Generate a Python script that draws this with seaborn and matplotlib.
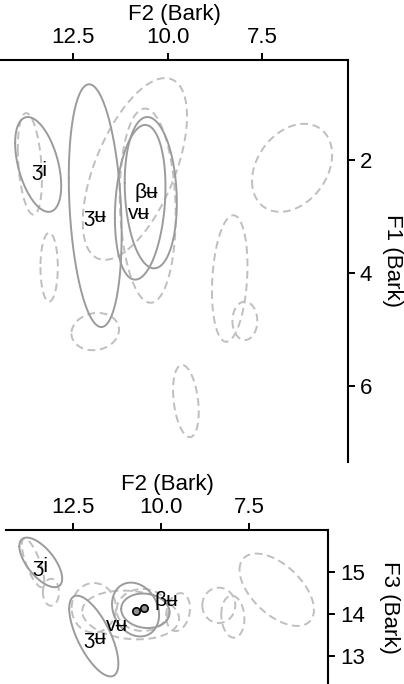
import numpy as np
import pandas as pd
import matplotlib
matplotlib.use("Agg")
import matplotlib.pyplot as plt
import seaborn as sns

# ---------------- data ----------------
# one entry per vowel category; the first four are the labelled (solid) ones
names = ["ʒi", "ʒʉ", "vʉ", "βʉ", "o1", "o2", "o3", "o4", "o5", "o6", "o7", "o8", "o9"]
labelled = [True, True, True, True, False, False, False, False, False, False, False, False, False]

f2_mean   = [13.43, 11.92, 10.73, 10.45, 13.65, 13.14, 11.92, 10.87, 10.53, 8.36, 7.96, 9.52, 6.71]
f2_spread = [0.61, 0.70, 0.67, 0.69, 0.32, 0.23, 0.63, 1.38, 0.74, 0.47, 0.33, 0.34, 1.06]

f1_mean   = [2.08, 2.81, 2.75, 2.58, 2.07, 3.90, 5.04, 2.16, 2.81, 4.10, 4.85, 6.27, 2.14]
f1_spread = [0.84, 2.15, 1.37, 1.34, 0.90, 0.61, 0.33, 1.61, 1.72, 1.12, 0.34, 0.64, 0.78]
r_f2_f1   = [-0.45, -0.23, 0.20, -0.13, -0.30, 0.0, 0.10, 0.58, -0.10, 0.20, 0.0, -0.30, 0.30]

f3_mean   = [15.23, 13.48, 14.11, 14.08, 15.22, 14.52, 14.15, 13.98, 14.10, 14.21, 13.94, 14.05, 14.58]
f3_spread = [0.59, 0.96, 0.64, 0.41, 0.58, 0.32, 0.59, 0.58, 0.50, 0.42, 0.50, 0.45, 0.86]
r_f2_f3   = [0.65, 0.68, 0.20, 0.10, 0.75, 0.0, 0.0, 0.15, 0.0, 0.0, 0.10, -0.20, 0.55]

# text labels
label_text   = ["ʒi", "ʒʉ", "βʉ", "vʉ"]
label_f2_top = [13.39, 11.94, 10.56, 10.77]
label_f1_top = [2.18, 3.01, 2.58, 2.94]
label_f2_bot = [13.45, 11.90, 9.86, 11.25]
label_f3_bot = [15.14, 13.41, 14.32, 13.72]

# means shown in lower panel
mean_f2 = [10.71, 10.48]
mean_f3 = [14.08, 14.15]

f2_ticks = [12.5, 10.0, 7.5]
f2_ticklabels = ["12.5", "10.0", "7.5"]
f1_ticks = [2, 4, 6]
f3_ticks = [13, 14, 15]

# ---------------- style ----------------
sns.set_theme(style="ticks")
plt.rcParams["font.family"] = ["Liberation Sans", "DejaVu Sans"]

SOLID = "#9b9b9b"
DASHED = "#bfbfbf"
FS = 16
LAB_FS = 15


def ellipse(cx, sx, cy, sy, r, n=240):
    t = np.linspace(0, 2 * np.pi, n)
    x = cx + sx * np.cos(t)
    y = cy + sy * (r * np.cos(t) + np.sqrt(1 - r * r) * np.sin(t))
    return pd.DataFrame({"x": x, "y": y})


def draw_ellipses(ax, ymean, yspread, rr):
    order = [i for i in range(len(names)) if not labelled[i]] + \
            [i for i in range(len(names)) if labelled[i]]
    for i in order:
        df = ellipse(f2_mean[i], f2_spread[i], ymean[i], yspread[i], rr[i])
        if labelled[i]:
            sns.lineplot(data=df, x="x", y="y", sort=False, estimator=None, ax=ax,
                         color=SOLID, lw=1.4)
        else:
            sns.lineplot(data=df, x="x", y="y", sort=False, estimator=None, ax=ax,
                         color=DASHED, lw=1.4, linestyle=(0, (4, 2.4)))


def style_axes(ax, yticks, ylabel, label_x):
    ax.xaxis.tick_top()
    ax.xaxis.set_label_position("top")
    ax.yaxis.tick_right()
    ax.yaxis.set_label_position("right")
    for s in ["left", "bottom"]:
        ax.spines[s].set_visible(False)
    for s in ["top", "right"]:
        ax.spines[s].set_visible(True)
        ax.spines[s].set_color("black")
        ax.spines[s].set_linewidth(1.5)
    ax.set_xticks(f2_ticks)
    ax.set_xticklabels(f2_ticklabels)
    ax.set_yticks(yticks)
    ax.set_yticklabels([str(v) for v in yticks])
    ax.tick_params(axis="both", length=5, width=1.4, color="black",
                   labelsize=FS, pad=3.5, labelcolor="black")
    ax.set_xlabel("F2 (Bark)", fontsize=FS, labelpad=5, color="black")
    ax.set_ylabel(ylabel, fontsize=FS, rotation=270, va="bottom", color="black")
    ax.yaxis.set_label_coords(label_x, 0.5)
    ax.set_facecolor("white")


fig = plt.figure(figsize=(4.04, 6.84), dpi=100)
fig.patch.set_facecolor("white")

ax1 = fig.add_axes([0.0, 1 - 462 / 684, 348 / 404, (462 - 60) / 684])
ax2 = fig.add_axes([6 / 404, 0.0, 322 / 404, (684 - 530) / 684])

# top panel: F2 vs F1 (F1 grows downward)
draw_ellipses(ax1, f1_mean, f1_spread, r_f2_f1)
for t, x, y in zip(label_text, label_f2_top, label_f1_top):
    ax1.text(x, y, t, ha="center", va="center", fontsize=LAB_FS, color="black")
ax1.set_xlim(14.44, 5.23)
ax1.set_ylim(7.35, 0.23)
style_axes(ax1, f1_ticks, "F1 (Bark)", 382 / 348)

# bottom panel: F2 vs F3
draw_ellipses(ax2, f3_mean, f3_spread, r_f2_f3)
sns.scatterplot(x=mean_f2, y=mean_f3, ax=ax2, s=28, color="#8f8f8f",
                edgecolor="black", linewidth=1.2, zorder=5)
for t, x, y in zip(label_text, label_f2_bot, label_f3_bot):
    ax2.text(x, y, t, ha="center", va="center", fontsize=LAB_FS, color="black")
ax2.set_xlim(14.42, 5.25)
ax2.set_ylim(12.34, 16.0)
style_axes(ax2, f3_ticks, "F3 (Bark)", (379 - 6) / 322)

fig.savefig("out.png", dpi=100, facecolor="white")
